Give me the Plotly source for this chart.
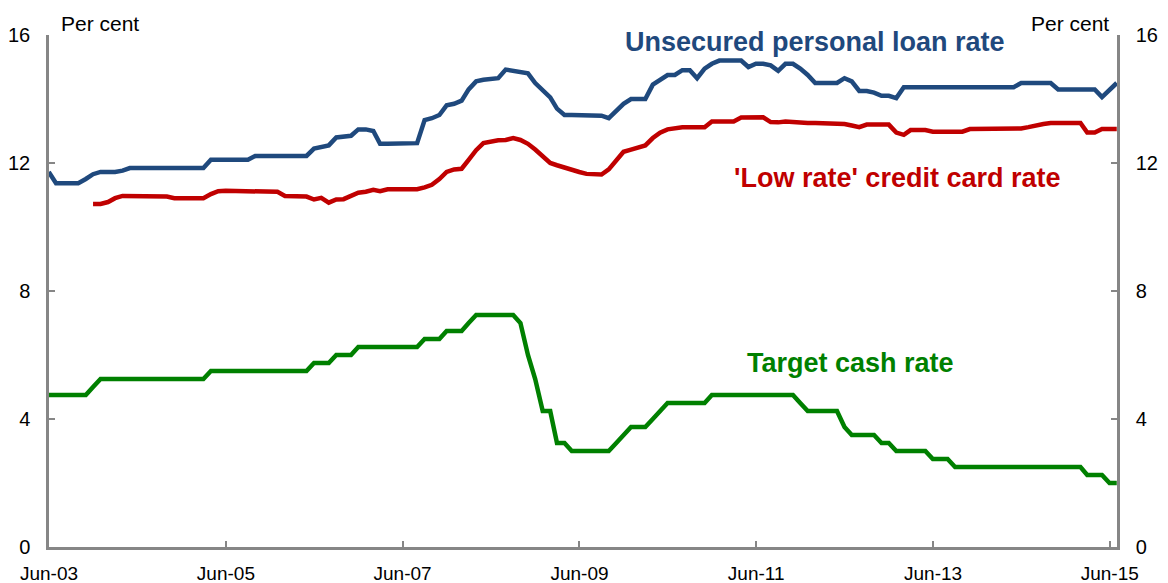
import pandas as pd
import plotly.graph_objects as go

# Month-end observation dates
blue_dates = pd.date_range("2003-05-31", "2015-06-30", freq="ME")
red_dates = pd.date_range("2003-11-30", "2015-06-30", freq="ME")
green_dates = pd.date_range("2003-05-31", "2015-06-30", freq="ME")

# Unsecured personal loan rate (May-03 .. Jun-15)
personal_loan = [
    11.72,
    11.37, 11.37, 11.37, 11.37, 11.50, 11.65, 11.72, 11.72, 11.72, 11.76,
    11.84, 11.84, 11.84, 11.84, 11.84, 11.84, 11.84, 11.84, 11.84, 11.84,
    11.84, 12.10, 12.10, 12.10, 12.10, 12.10, 12.10, 12.22, 12.22, 12.22,
    12.22, 12.22, 12.22, 12.22, 12.22, 12.45, 12.50, 12.55, 12.80, 12.83,
    12.85, 13.05, 13.05, 13.00, 12.60, 12.60, 12.60, 12.60, 12.60, 12.62,
    13.34, 13.40, 13.50, 13.80, 13.85, 13.95, 14.30, 14.55, 14.60, 14.62,
    14.65, 14.92, 14.88, 14.85, 14.80, 14.50, 14.25, 14.05, 13.70, 13.50,
    13.50, 13.50, 13.50, 13.50, 13.48, 13.40, 13.65, 13.85, 14.00, 14.00,
    14.00, 14.45, 14.60, 14.75, 14.75, 14.90, 14.90, 14.65, 14.95, 15.10,
    15.20, 15.20, 15.20, 15.20, 15.00, 15.10, 15.10, 15.05, 14.88, 15.10,
    15.10, 14.95, 14.75, 14.50, 14.50, 14.50, 14.50, 14.65, 14.55, 14.25,
    14.25, 14.20, 14.10, 14.10, 14.03, 14.37, 14.37, 14.37, 14.37, 14.37,
    14.37, 14.37, 14.37, 14.37, 14.37, 14.37, 14.37, 14.37, 14.37, 14.37,
    14.37, 14.50, 14.50, 14.50, 14.50, 14.50, 14.30, 14.30, 14.30, 14.30,
    14.30, 14.30, 14.06, 14.30, 14.50,
]

# 'Low rate' credit card rate (Nov-03 .. Jun-15)
credit_card = [
    10.72, 10.72, 10.78, 10.90, 10.97,
    10.97, 10.97, 10.97, 10.97, 10.97, 10.95, 10.90, 10.90, 10.90, 10.90,
    10.90, 11.03, 11.12, 11.13, 11.13, 11.13, 11.13, 11.13, 11.13, 11.13,
    11.10, 10.97, 10.97, 10.97, 10.95, 10.86, 10.91, 10.76, 10.86, 10.87,
    10.98, 11.07, 11.10, 11.16, 11.12, 11.18, 11.18, 11.18, 11.18, 11.18,
    11.24, 11.32, 11.50, 11.72, 11.80, 11.82, 12.10, 12.40, 12.62, 12.68,
    12.71, 12.72, 12.78, 12.72, 12.60, 12.42, 12.20, 12.00, 11.93, 11.85,
    11.78, 11.72, 11.66, 11.64, 11.64, 11.80, 12.10, 12.35, 12.42, 12.47,
    12.55, 12.78, 12.95, 13.05, 13.10, 13.12, 13.12, 13.12, 13.12, 13.30,
    13.30, 13.30, 13.30, 13.42, 13.43, 13.43, 13.43, 13.28, 13.27, 13.30,
    13.28, 13.25, 13.25, 13.25, 13.25, 13.25, 13.25, 13.22, 13.17, 13.12,
    13.20, 13.20, 13.20, 13.20, 12.95, 12.88, 13.03, 13.03, 13.03, 12.98,
    12.98, 12.98, 12.98, 12.98, 13.06, 13.06, 13.06, 13.06, 13.06, 13.06,
    13.06, 13.08, 13.12, 13.18, 13.22, 13.25, 13.25, 13.25, 13.25, 13.25,
    12.95, 12.95, 13.06, 13.06, 13.06,
]

# Target cash rate (May-03 .. Jun-15)
cash_rate = [
    4.75,
    4.75, 4.75, 4.75, 4.75, 4.75, 5.00, 5.25, 5.25, 5.25, 5.25,
    5.25, 5.25, 5.25, 5.25, 5.25, 5.25, 5.25, 5.25, 5.25, 5.25,
    5.25, 5.50, 5.50, 5.50, 5.50, 5.50, 5.50, 5.50, 5.50, 5.50,
    5.50, 5.50, 5.50, 5.50, 5.50, 5.75, 5.75, 5.75, 6.00, 6.00,
    6.00, 6.25, 6.25, 6.25, 6.25, 6.25, 6.25, 6.25, 6.25, 6.25,
    6.50, 6.50, 6.50, 6.75, 6.75, 6.75, 7.00, 7.25, 7.25, 7.25,
    7.25, 7.25, 7.25, 7.00, 6.00, 5.25, 4.25, 4.25, 3.25, 3.25,
    3.00, 3.00, 3.00, 3.00, 3.00, 3.00, 3.25, 3.50, 3.75, 3.75,
    3.75, 4.00, 4.25, 4.50, 4.50, 4.50, 4.50, 4.50, 4.50, 4.75,
    4.75, 4.75, 4.75, 4.75, 4.75, 4.75, 4.75, 4.75, 4.75, 4.75,
    4.75, 4.50, 4.25, 4.25, 4.25, 4.25, 4.25, 3.75, 3.50, 3.50,
    3.50, 3.50, 3.25, 3.25, 3.00, 3.00, 3.00, 3.00, 3.00, 2.75,
    2.75, 2.75, 2.50, 2.50, 2.50, 2.50, 2.50, 2.50, 2.50, 2.50,
    2.50, 2.50, 2.50, 2.50, 2.50, 2.50, 2.50, 2.50, 2.50, 2.50,
    2.25, 2.25, 2.25, 2.00, 2.00,
]

tick_dates = ["2003-06-01", "2005-06-01", "2007-06-01", "2009-06-01",
              "2011-06-01", "2013-06-01", "2015-06-01"]
tick_labels = ["Jun-03", "Jun-05", "Jun-07", "Jun-09", "Jun-11", "Jun-13", "Jun-15"]
y_ticks = [0, 4, 8, 12, 16]

BLUE = "#1F497D"
RED = "#C00000"
GREEN = "#008000"
AXIS = "#868686"
FONT = "Liberation Sans, Arial, sans-serif"

fig = go.Figure()
fig.add_trace(go.Scatter(x=blue_dates, y=personal_loan, mode="lines",
                         line=dict(color=BLUE, width=4.5), name="Unsecured personal loan rate"))
fig.add_trace(go.Scatter(x=red_dates, y=credit_card, mode="lines",
                         line=dict(color=RED, width=4.5), name="'Low rate' credit card rate"))
fig.add_trace(go.Scatter(x=green_dates, y=cash_rate, mode="lines",
                         line=dict(color=GREEN, width=4.5), name="Target cash rate"))
# invisible trace for the right axis
fig.add_trace(go.Scatter(x=green_dates[:1], y=[None], yaxis="y2", showlegend=False,
                         hoverinfo="skip"))

axis_common = dict(showline=True, linecolor=AXIS, linewidth=2.5,
                   ticks="inside", ticklen=6, tickwidth=1.5, tickcolor=AXIS,
                   showgrid=False, zeroline=False, automargin=False)

fig.update_layout(
    width=1168, height=583,
    margin=dict(l=49, r=51, t=35, b=36, autoexpand=False),
    plot_bgcolor="white", paper_bgcolor="white",
    showlegend=False,
    font=dict(family=FONT, size=19.5, color="black"),
    xaxis=dict(
        type="date", range=["2003-06-01", "2015-07-01"],
        tickmode="array", tickvals=tick_dates, ticktext=tick_labels,
        ticklabelstandoff=7, tickfont=dict(size=19), **axis_common,
    ),
    yaxis=dict(
        range=[0, 16], tickmode="array", tickvals=y_ticks,
        ticklabelstandoff=12, tickfont=dict(size=20), **axis_common,
    ),
    yaxis2=dict(
        range=[0, 16], tickmode="array", tickvals=y_ticks,
        overlaying="y", side="right",
        ticklabelstandoff=12, tickfont=dict(size=20), **axis_common,
    ),
)

annos = [
    dict(text="<b>Unsecured personal loan rate</b>", x=0.717, y=0.986, color=BLUE, size=27),
    dict(text="<b>'Low rate' credit card rate</b>", x=0.794, y=0.721, color=RED, size=27),
    dict(text="<b>Target cash rate</b>", x=0.750, y=0.359, color=GREEN, size=27),
]
for a in annos:
    fig.add_annotation(text=a["text"], x=a["x"], y=a["y"], xref="paper", yref="paper",
                       xanchor="center", yanchor="middle", showarrow=False,
                       font=dict(family=FONT, size=a["size"], color=a["color"]))

for xp in (0.0478, 0.956):
    fig.add_annotation(text="Per cent", x=xp, y=1.0234, xref="paper", yref="paper",
                       xanchor="center", yanchor="middle", showarrow=False,
                       font=dict(family=FONT, size=21, color="black"))

fig.write_html("out.html", config={"displayModeBar": False},
               post_script="document.body.style.margin='0';")
